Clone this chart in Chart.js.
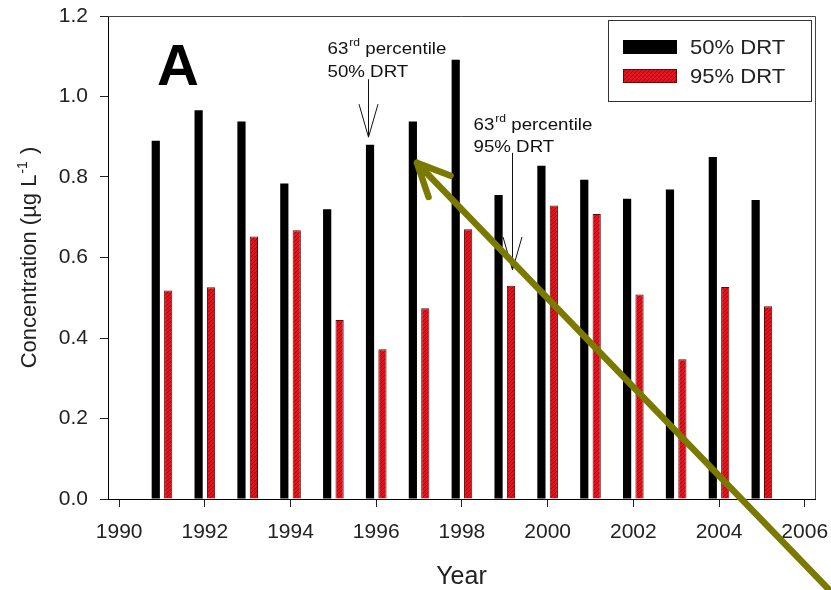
<!DOCTYPE html>
<html>
<head>
<meta charset="utf-8">
<script src="https://cdn.jsdelivr.net/npm/chart.js@4/dist/chart.umd.min.js"></script>
<style>
  html, body { margin: 0; padding: 0; background: #fff; }
</style>
</head>
<body>
<canvas id="chart" width="831" height="590"></canvas>
<script>
// --- data ---
const years = [1991, 1992, 1993, 1994, 1995, 1996, 1997, 1998, 1999, 2000, 2001, 2002, 2003, 2004, 2005];
const drt50 = [0.89, 0.966, 0.938, 0.784, 0.72, 0.88, 0.938, 1.091, 0.755, 0.828, 0.793, 0.746, 0.769, 0.85, 0.743];
const drt95 = [0.518, 0.526, 0.652, 0.668, 0.445, 0.372, 0.474, 0.67, 0.53, 0.729, 0.708, 0.508, 0.347, 0.527, 0.479];
const seriesNames = ['50% DRT', '95% DRT'];
const xTicks = [1990, 1992, 1994, 1996, 1998, 2000, 2002, 2004, 2006];
const yTicks = [0, 0.2, 0.4, 0.6, 0.8, 1.0, 1.2];

const family = '"Liberation Sans", Arial, sans-serif';
const textColor = '#222';

// the two "63rd percentile" call-outs, placed in data units
const notes = [
  { x: 1995.80, yTail: 1.043, yTip: 0.899, yWing: 0.981, textDx: -41, yLine1: 1.106, yLine2: 1.048, label: '50% DRT' },
  { x: 1999.16, yTail: 0.860, yTip: 0.569, yWing: 0.651, textDx: -39, yLine1: 0.917, yLine2: 0.862, label: '95% DRT' }
];

const canvas = document.getElementById('chart');
const ctx = canvas.getContext('2d');

function makeHatch(context) {
  const p = document.createElement('canvas');
  p.width = 4; p.height = 4;
  const c = p.getContext('2d');
  c.fillStyle = '#e8121c';
  c.fillRect(0, 0, 4, 4);
  c.strokeStyle = '#a3080f';
  c.lineWidth = 1;
  c.beginPath();
  c.moveTo(0, 4); c.lineTo(4, 0);
  c.moveTo(-1, 1); c.lineTo(1, -1);
  c.moveTo(3, 5); c.lineTo(5, 3);
  c.stroke();
  return context.createPattern(p, 'repeat');
}
const hatch = makeHatch(ctx);

// draws text squeezed/stretched horizontally
function wideText(c, str, x, y, sx) {
  c.save();
  c.translate(x, y);
  c.scale(sx, 1);
  c.fillText(str, 0, 0);
  c.restore();
  return c.measureText(str).width * sx;
}

// fixed axis box, no extra label overhang padding
function fixBox(size, horizontal) {
  return s => {
    if (horizontal) s.height = size; else s.width = size;
    s.paddingTop = s.paddingBottom = s.paddingLeft = s.paddingRight = 0;
  };
}

const overlay = {
  id: 'overlay',
  afterDraw(chart) {
    const { ctx: c, chartArea: a, scales: { x, y } } = chart;
    c.save();

    // frame on top and right
    c.strokeStyle = '#444';
    c.lineWidth = 1;
    c.beginPath();
    c.moveTo(a.left, a.top + 0.5);
    c.lineTo(a.right + 0.5, a.top + 0.5);
    c.lineTo(a.right + 0.5, a.bottom);
    c.stroke();

    // panel letter
    c.fillStyle = '#000';
    c.textBaseline = 'alphabetic';
    c.textAlign = 'left';
    c.font = `bold 58px ${family}`;
    c.fillText('A', a.left + 49, a.top + 69);

    // y axis title with superscript
    c.save();
    c.translate(36, (a.top + a.bottom) / 2);
    c.rotate(-Math.PI / 2);
    c.fillStyle = textColor;
    const main = 'Concentration (\u00b5g L';
    c.font = `22px ${family}`;
    const w1 = c.measureText(main).width;
    c.font = `14px ${family}`;
    const w2 = c.measureText('-1').width;
    c.font = `22px ${family}`;
    const w3 = c.measureText(' )').width;
    let tx = -(w1 + w2 + w3 + 2) / 2;
    c.fillText(main, tx, 0); tx += w1 + 1;
    c.font = `14px ${family}`;
    c.fillText('-1', tx, -9); tx += w2 + 1;
    c.font = `22px ${family}`;
    c.fillText(' )', tx, 0);
    c.restore();

    // call-outs
    c.fillStyle = '#111';
    c.strokeStyle = '#111';
    c.lineWidth = 1;
    notes.forEach(n => {
      const px = Math.round(x.getPixelForValue(n.x)) + 0.5;
      const pTail = y.getPixelForValue(n.yTail);
      const pTip = y.getPixelForValue(n.yTip);
      const pWing = y.getPixelForValue(n.yWing);
      c.beginPath();
      c.moveTo(px, pTail); c.lineTo(px, pTip);
      c.moveTo(px - 9.5, pWing); c.lineTo(px, pTip); c.lineTo(px + 9.5, pWing);
      c.stroke();
      let lx = px + n.textDx;
      const b1 = y.getPixelForValue(n.yLine1);
      const b2 = y.getPixelForValue(n.yLine2);
      c.font = `17px ${family}`;
      lx += wideText(c, '63', lx, b1, 1.1);
      c.font = `11px ${family}`;
      lx += wideText(c, 'rd', lx + 1, b1 - 8, 1.1) + 1;
      c.font = `17px ${family}`;
      wideText(c, ' percentile', lx, b1, 1.1);
      wideText(c, n.label, px + n.textDx, b2, 1.1);
    });

    // legend box
    const lx = a.right - 207, ly = a.top + 4;
    c.strokeStyle = '#333';
    c.strokeRect(lx + 0.5, ly + 0.5, 203, 81);
    const sets = chart.data.datasets;
    sets.forEach((ds, i) => {
      const sy = ly + 20 + i * 29;
      c.fillStyle = ds.backgroundColor;
      c.fillRect(lx + 15, sy, 54, 14);
      if (ds.borderWidth) {
        c.strokeStyle = ds.borderColor;
        c.strokeRect(lx + 15.5, sy + 0.5, 53, 13);
      }
      c.fillStyle = textColor;
      c.font = `21px ${family}`;
      wideText(c, ds.label, lx + 82, sy + 14, 1.05);
    });

    // olive pointer arrow
    const tip = { x: x.getPixelForValue(1996.95), y: y.getPixelForValue(0.835) };
    const tail = { x: x.getPixelForValue(2006.7), y: y.getPixelForValue(-0.24) };
    const ang = Math.atan2(tail.y - tip.y, tail.x - tip.x);
    c.strokeStyle = '#7a7a00';
    c.lineWidth = 6.5;
    c.lineCap = 'round';
    c.lineJoin = 'round';
    c.beginPath();
    c.moveTo(tail.x, tail.y); c.lineTo(tip.x, tip.y);
    [-0.44, 0.44].forEach(d => {
      c.moveTo(tip.x, tip.y);
      c.lineTo(tip.x + 36 * Math.cos(ang + d), tip.y + 36 * Math.sin(ang + d));
    });
    c.stroke();

    c.restore();
  }
};

new Chart(ctx, {
  type: 'bar',
  data: {
    datasets: [
      {
        label: seriesNames[0],
        data: years.map((yr, i) => ({ x: yr, y: drt50[i] })),
        backgroundColor: '#000',
        borderWidth: 0,
        categoryPercentage: 0.58,
        barPercentage: 0.66
      },
      {
        label: seriesNames[1],
        data: years.map((yr, i) => ({ x: yr, y: drt95[i] })),
        backgroundColor: hatch,
        borderColor: '#5c0a0a',
        borderWidth: 1,
        borderSkipped: 'bottom',
        categoryPercentage: 0.58,
        barPercentage: 0.66
      }
    ]
  },
  options: {
    responsive: false,
    animation: false,
    layout: { autoPadding: false, padding: { top: 16, right: 16, left: 0, bottom: 0 } },
    plugins: { legend: { display: false }, tooltip: { enabled: false } },
    scales: {
      x: {
        type: 'linear',
        min: 1989.74,
        max: 2006.24,
        offset: false,
        afterBuildTicks: s => { s.ticks = xTicks.map(v => ({ value: v })); },
        afterFit: fixBox(91, true),
        grid: { drawOnChartArea: false, drawTicks: true, tickLength: 8, color: '#222', offset: false },
        border: { color: '#000', width: 1 },
        ticks: { color: textColor, font: { family, size: 21 }, padding: 13, maxRotation: 0, autoSkip: false, callback: v => String(v) },
        title: { display: true, text: 'Year', color: textColor, font: { family, size: 25, lineHeight: 1 }, padding: 0 }
      },
      y: {
        min: 0,
        max: 1.2,
        afterBuildTicks: s => { s.ticks = yTicks.map(v => ({ value: v })); },
        afterFit: fixBox(108, false),
        grid: { drawOnChartArea: false, drawTicks: true, tickLength: 8, color: '#222' },
        border: { color: '#000', width: 1 },
        ticks: { color: textColor, font: { family, size: 21 }, padding: 12, callback: v => v.toFixed(1) }
      }
    }
  },
  plugins: [overlay]
});
</script>
</body>
</html>
